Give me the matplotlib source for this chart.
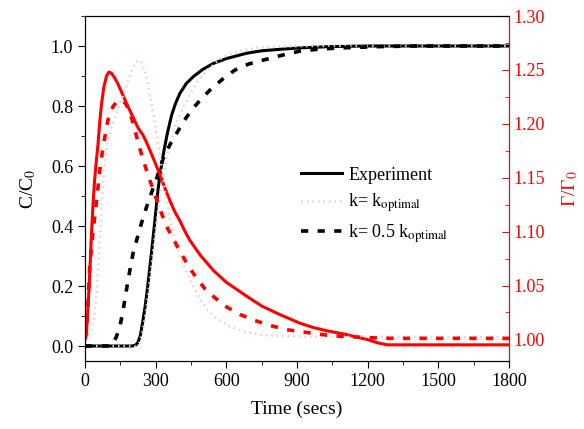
import matplotlib
matplotlib.use('Agg')
from matplotlib import pyplot as plt
from matplotlib.ticker import MultipleLocator, FormatStrFormatter

plt.rcParams['font.family'] = ['Liberation Serif', 'DejaVu Serif']
plt.rcParams['mathtext.fontset'] = 'stix'

# concentration curves (left axis)
t_exp = [0, 200, 215, 225, 235, 245, 255, 265, 275, 285, 297, 310, 320, 335, 350, 368, 385,
         403, 430, 460, 500, 545, 600, 687, 750, 828, 920, 1041, 1200, 1800]
c_exp = [0, 0, 0.003, 0.012, 0.035, 0.08, 0.13, 0.19, 0.26, 0.33, 0.42, 0.52, 0.58, 0.65, 0.71, 0.77, 0.81,
         0.842, 0.875, 0.898, 0.922, 0.942, 0.958, 0.976, 0.984, 0.989, 0.994, 0.998, 1.0, 1.0]

t_half = [0, 110, 119, 133, 148, 162, 176, 190, 204, 222, 240, 260, 282, 305, 332, 360, 389, 420,
          453, 495, 538, 585, 637, 695, 757, 840, 913, 1000, 1100, 1250, 1400, 1800]
c_half = [0, 0, 0.009, 0.03, 0.064, 0.12, 0.187, 0.25, 0.309, 0.36, 0.41, 0.46, 0.51, 0.56, 0.626, 0.67, 0.709, 0.75,
          0.787, 0.825, 0.859, 0.89, 0.92, 0.94, 0.953, 0.97, 0.983, 0.99, 0.994, 0.998, 1.0, 1.0]

t_opt = [0, 215, 230, 245, 260, 275, 290, 305, 320, 335, 350, 370, 390, 420, 446, 480, 520, 570,
         620, 680, 750, 850, 1000, 1800]
c_opt = [0, 0, 0.01, 0.05, 0.12, 0.22, 0.32, 0.42, 0.51, 0.58, 0.64, 0.70, 0.75, 0.80, 0.84, 0.885, 0.92, 0.955,
         0.975, 0.988, 0.995, 0.999, 1.0, 1.0]

# gamma curves (right axis)
tg_exp = [0, 6, 13, 20, 27, 34, 41, 48, 55, 62, 70, 80, 91, 101, 112, 125, 140, 158, 176, 200, 226,
          245, 261, 290, 318, 340, 360, 380, 403, 425, 445, 490, 545, 600, 687, 750, 828, 913, 970,
          1027, 1100, 1197, 1240, 1282, 1800]
g_exp = [1.0, 1.006, 1.03, 1.06, 1.095, 1.125, 1.148, 1.165, 1.18, 1.2, 1.218, 1.234, 1.244, 1.248, 1.247, 1.243,
         1.237, 1.228, 1.219, 1.208, 1.196, 1.19, 1.183, 1.168, 1.153, 1.14, 1.129, 1.119, 1.11, 1.1, 1.092,
         1.078, 1.064, 1.053, 1.04, 1.031, 1.023, 1.015, 1.011, 1.008, 1.005, 1.0, 0.997, 0.995, 0.995]

tg_half = [0, 6, 13, 20, 34, 48, 63, 77, 98, 119, 137, 155, 172, 190, 208, 226, 244, 261, 289, 325,
           346, 390, 431, 470, 509, 555, 602, 660, 715, 785, 857, 956, 1027, 1084, 1204, 1300, 1800]
g_half = [1.0, 1.006, 1.035, 1.067, 1.10, 1.126, 1.157, 1.179, 1.204, 1.216, 1.221, 1.222, 1.219, 1.211,
          1.198, 1.182, 1.169, 1.157, 1.139, 1.117, 1.105, 1.087, 1.071, 1.058, 1.047, 1.038, 1.030, 1.023,
          1.018, 1.013, 1.009, 1.006, 1.004, 1.003, 1.0016, 1.001, 1.001]

tg_opt = [0, 20, 40, 50, 60, 70, 80, 92, 110, 135, 165, 195, 215, 228, 240, 255, 270, 285, 300, 320,
          340, 360, 380, 404, 430, 460, 490, 517, 560, 616, 680, 757, 850, 970, 1800]
g_opt = [1.0, 1.005, 1.02, 1.045, 1.08, 1.12, 1.155, 1.18, 1.195, 1.21, 1.228, 1.248, 1.257, 1.259, 1.257,
         1.248, 1.232, 1.215, 1.197, 1.168, 1.137, 1.112, 1.094, 1.077, 1.062, 1.049, 1.037, 1.028, 1.019,
         1.012, 1.007, 1.004, 1.003, 1.0025, 1.002]

fig = plt.figure(figsize=(5.84, 4.29), dpi=100)
ax = fig.add_axes([0.1455, 0.1585, 0.7261, 0.8042])
ax2 = ax.twinx()

dash = (0, (2.0, 2.6))
dot = (0, (0.6, 1.6))

ax.plot(t_exp, c_exp, color='black', lw=2.2, label='Experiment')
ax.plot(t_opt, c_opt, color='#ddd2d2', lw=1.8, ls=dot, label='k= k$_{\\mathrm{optimal}}$')
ax.plot(t_half, c_half, color='black', lw=2.6, ls=dash, label='k= 0.5 k$_{\\mathrm{optimal}}$')

ax2.plot(tg_exp, g_exp, color='red', lw=2.2)
ax2.plot(tg_opt, g_opt, color='#f8c8c8', lw=1.8, ls=dot)
ax2.plot(tg_half, g_half, color='red', lw=2.6, ls=dash)

ax.set_xlim(0, 1800)
ax.set_ylim(-0.05, 1.1)
ax2.set_ylim(0.98, 1.30)

ax.xaxis.set_major_locator(MultipleLocator(300))
ax.xaxis.set_minor_locator(MultipleLocator(150))
ax.yaxis.set_major_locator(MultipleLocator(0.2))
ax.yaxis.set_minor_locator(MultipleLocator(0.1))
ax2.yaxis.set_major_locator(MultipleLocator(0.05))
ax2.yaxis.set_minor_locator(MultipleLocator(0.025))
ax.yaxis.set_major_formatter(FormatStrFormatter('%.1f'))
ax2.yaxis.set_major_formatter(FormatStrFormatter('%.2f'))

ax.tick_params(axis='both', which='major', direction='out', length=5, labelsize=13)
ax.tick_params(axis='both', which='minor', direction='out', length=3)
ax.tick_params(axis='y', right=False)
ax2.tick_params(axis='y', which='major', direction='in', length=5, labelsize=13, colors='red')
ax2.tick_params(axis='y', which='minor', direction='in', length=3, colors='red')
ax2.spines['right'].set_color('red')

ax.set_xlabel('Time (secs)', fontsize=14, labelpad=8)
ax.set_ylabel('C/C$_0$', fontsize=14, labelpad=9)
ax2.set_ylabel('\u0393/\u0393$_0$', fontsize=14, color='red', labelpad=11)

ax.legend(loc='center left', bbox_to_anchor=(0.47, 0.45), frameon=False, fontsize=13,
          handlelength=2.3, handletextpad=0.35, labelspacing=0.45)

fig.savefig('out.png', dpi=100)
